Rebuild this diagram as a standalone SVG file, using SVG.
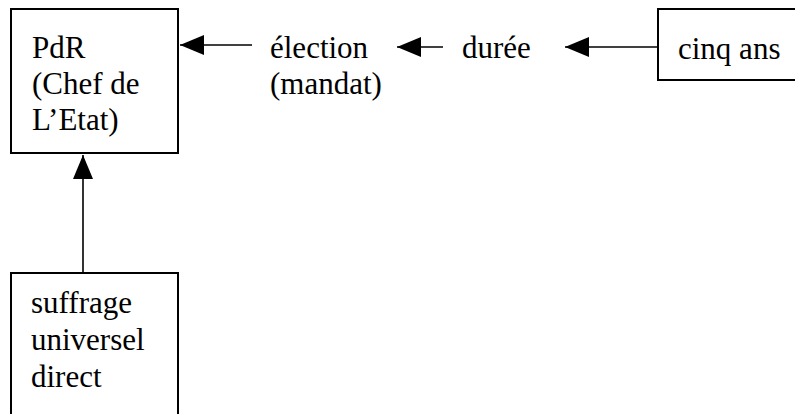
<svg xmlns="http://www.w3.org/2000/svg" width="795" height="414" viewBox="0 0 795 414">
<defs>
<marker id="ah" markerUnits="userSpaceOnUse" markerWidth="26" markerHeight="22" refX="24" refY="10" orient="auto">
<path d="M0,0 L24,10 L0,20 z" fill="#000"/>
</marker>
<style>
.box{fill:#fff;stroke:#000;stroke-width:2}
.t{font-family:'Liberation Serif','Tinos','DejaVu Serif',serif;font-size:31px;fill:#000}
.c{stroke:#000;stroke-width:1.6;fill:none}
</style>
</defs>
<rect width="795" height="414" fill="#fff"/>
<g id="pdr">
<rect class="box" x="11" y="9" width="167" height="144"/>
<text class="t" font-family="Liberation Serif, serif" x="32" y="58">PdR</text>
<text class="t" font-family="Liberation Serif, serif" x="32" y="94">(Chef de</text>
<text class="t" font-family="Liberation Serif, serif" x="32" y="130">L’Etat)</text>
</g>
<g id="election">
<text class="t" font-family="Liberation Serif, serif" x="270" y="58">élection</text>
<text class="t" font-family="Liberation Serif, serif" x="270" y="94">(mandat)</text>
</g>
<g id="duree">
<text class="t" font-family="Liberation Serif, serif" x="462" y="58">durée</text>
</g>
<g id="cinq">
<rect class="box" x="658" y="9" width="150" height="71"/>
<text class="t" font-family="Liberation Serif, serif" x="678" y="59">cinq ans</text>
</g>
<g id="suffrage">
<rect class="box" x="11" y="273" width="167" height="160"/>
<text class="t" font-family="Liberation Serif, serif" x="31" y="313">suffrage</text>
<text class="t" font-family="Liberation Serif, serif" x="31" y="350">universel</text>
<text class="t" font-family="Liberation Serif, serif" x="31" y="387">direct</text>
</g>
<g id="connectors">
<line class="c" x1="252" y1="45" x2="180" y2="45" marker-end="url(#ah)"/>
<line class="c" x1="443" y1="47" x2="397" y2="47" marker-end="url(#ah)"/>
<line class="c" x1="658" y1="47" x2="565" y2="47" marker-end="url(#ah)"/>
<line class="c" x1="83" y1="273" x2="83" y2="155" marker-end="url(#ah)"/>
</g>
</svg>
